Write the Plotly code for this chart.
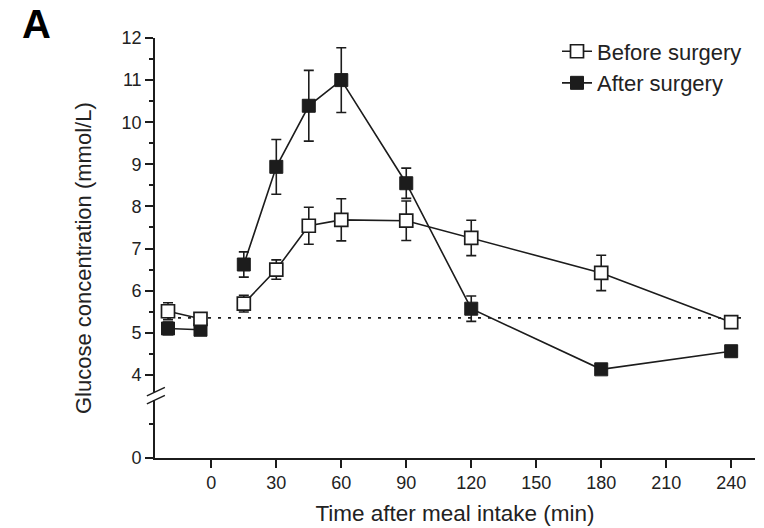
import plotly.graph_objects as go

# Sampling times (min) relative to meal intake; None separates the fasting
# samples from the post-meal series so the two segments are drawn apart
time_min = [-20, -5, None, 15, 30, 45, 60, 90, 120, 180, 240]

# Mean glucose (mmol/L) and SEM
before_mean = [5.51, 5.33, None, 5.69, 6.50, 7.54, 7.68, 7.66, 7.25, 6.42, 5.25]
before_sem = [0.20, 0.12, None, 0.20, 0.23, 0.44, 0.50, 0.47, 0.42, 0.42, 0.05]
after_mean = [5.10, 5.07, None, 6.62, 8.94, 10.39, 11.00, 8.55, 5.57, 4.13, 4.56]
after_sem = [0.15, 0.10, None, 0.30, 0.65, 0.84, 0.77, 0.36, 0.30, 0.05, 0.05]

# Fasting baseline reference
baseline_x = [-20, 245]
baseline_y = [5.35, 5.35]

x_ticks = [0, 30, 60, 90, 120, 150, 180, 210, 240]
y_ticks_upper = [4, 5, 6, 7, 8, 9, 10, 11, 12]

INK = "#1c1c1c"
FONT = "Liberation Sans, Arial, Helvetica, sans-serif"

fig = go.Figure()

# keeps the lower (0-origin) y segment alive
fig.add_trace(go.Scatter(x=[], y=[], xaxis="x", yaxis="y", showlegend=False))

fig.add_trace(go.Scatter(
    x=baseline_x, y=baseline_y, mode="lines", xaxis="x", yaxis="y2",
    line=dict(color=INK, width=1.8, dash="3px,7px"),
    showlegend=False, hoverinfo="skip",
))

fig.add_trace(go.Scatter(
    x=time_min, y=after_mean, name="After surgery", mode="lines+markers",
    xaxis="x", yaxis="y2", connectgaps=False,
    line=dict(color=INK, width=1.6),
    marker=dict(symbol="square", size=13, color=INK, line=dict(color=INK, width=1)),
    error_y=dict(type="data", array=after_sem, visible=True,
                 color=INK, thickness=1.6, width=5),
))

fig.add_trace(go.Scatter(
    x=time_min, y=before_mean, name="Before surgery", mode="lines+markers",
    xaxis="x", yaxis="y2", connectgaps=False,
    line=dict(color=INK, width=1.6),
    marker=dict(symbol="square", size=13, color="white", line=dict(color=INK, width=1.7)),
    error_y=dict(type="data", array=before_sem, visible=True,
                 color=INK, thickness=1.6, width=5),
))

# axis break marks
for y0, y1 in [(0.148, 0.168), (0.129, 0.149)]:
    fig.add_shape(type="line", xref="paper", yref="paper",
                  x0=-0.0135, y0=y0, x1=0.0165, y1=y1,
                  line=dict(color=INK, width=1.5))

fig.add_annotation(text="<b>A</b>", xref="paper", yref="paper",
                   x=-0.198, y=1.034, xanchor="center", yanchor="middle",
                   showarrow=False, font=dict(size=40, color="#000", family=FONT))

axis_common = dict(
    showline=True, linecolor=INK, linewidth=1.6,
    ticks="outside", ticklen=8, tickwidth=1.5, tickcolor=INK,
    showgrid=False, zeroline=False,
    tickfont=dict(size=18, color="#222", family=FONT),
)

fig.update_layout(
    width=764, height=528,
    margin=dict(l=155, r=9, t=38, b=70),
    paper_bgcolor="white", plot_bgcolor="white",
    font=dict(family=FONT, color="#222"),
    xaxis=dict(
        **axis_common, range=[-26, 251], domain=[0, 1], anchor="y",
        tickmode="array", tickvals=x_ticks,
        title=dict(text="Time after meal intake (min)",
                   font=dict(size=22.5, color="#222", family=FONT), standoff=13),
        automargin=False,
    ),
    yaxis=dict(
        **axis_common, range=[0, 1.7], domain=[0, 0.139], anchor="x",
        tickmode="array", tickvals=[0], ticktext=["0"],
        minor=dict(tickmode="array", tickvals=[1], ticks="outside",
                   ticklen=4, tickwidth=1.5, tickcolor=INK),
        automargin=False,
    ),
    yaxis2=dict(
        **axis_common, range=[3.6, 12], domain=[0.158, 1], anchor="x",
        tickmode="array", tickvals=y_ticks_upper,
        minor=dict(dtick=0.5, tick0=0, ticks="outside",
                   ticklen=4, tickwidth=1.5, tickcolor=INK),
        automargin=False,
    ),
    legend=dict(
        x=0.67, y=1.018, xanchor="left", yanchor="top",
        font=dict(size=22, color="#222", family=FONT),
        bgcolor="rgba(0,0,0,0)", traceorder="reversed",
        tracegroupgap=0, itemwidth=30,
    ),
    showlegend=True,
)

# y title drawn as rotated text spanning both segments
fig.add_annotation(text="Glucose concentration (mmol/L)", xref="paper", yref="paper",
                   x=-0.12, y=0.476, textangle=-90, showarrow=False,
                   xanchor="center", yanchor="middle",
                   font=dict(size=22, color="#222", family=FONT))

fig.write_html("out.html")
